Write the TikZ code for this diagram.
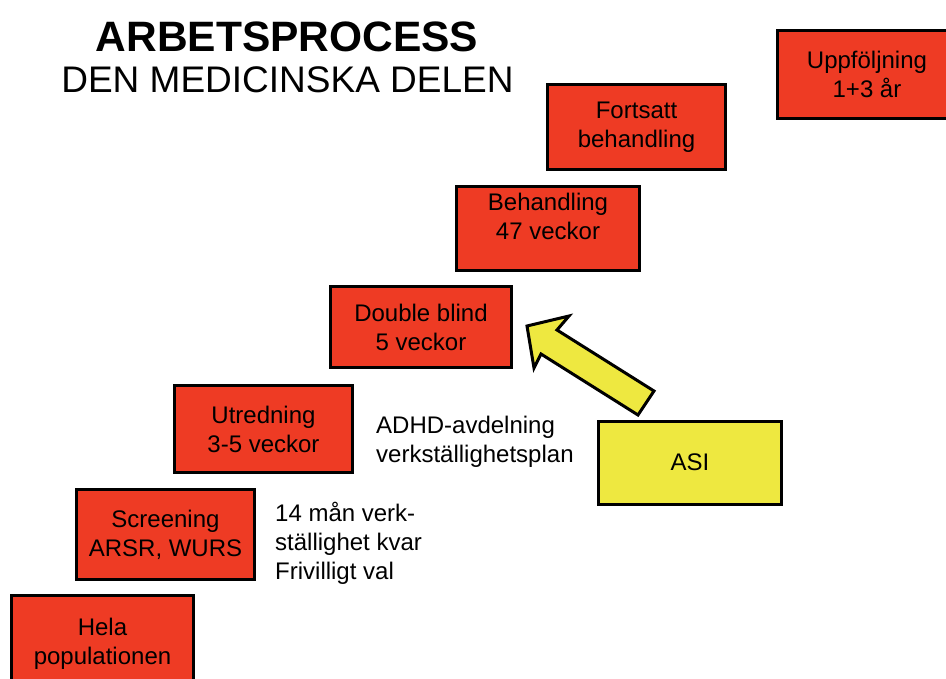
\documentclass[tikz,border=0pt]{standalone}
\usepackage{fontspec}
\setmainfont{Liberation Sans}
\definecolor{stepred}{HTML}{EE3B24}
\definecolor{asiyellow}{HTML}{EEE840}
\begin{document}
\begin{tikzpicture}[x=1pt,y=-1pt,
  redbox/.style={draw=black, line width=3pt, fill=stepred, inner sep=0pt,
    align=center, font=\fontsize{24}{29}\selectfont},
  yellowbox/.style={redbox, fill=asiyellow},
  note/.style={anchor=west, align=left, inner sep=0pt, font=\fontsize{24}{29}\selectfont}]
\useasboundingbox (0,0) rectangle (946,679);
\begin{scope}
\clip (0,0) rectangle (946,679);

% title
\node[anchor=base, inner sep=0pt, font=\fontsize{42.5}{46}\selectfont\bfseries] (title) at (287,52) {ARBETSPROCESS};
\node[anchor=base, inner sep=0pt, font=\fontsize{37}{42}\selectfont] (subtitle) at (287.5,93) {DEN MEDICINSKA DELEN};

% staircase of steps
\node[redbox, minimum width=182pt, minimum height=96pt] (hela) at (102.5,643.5) {Hela\\populationen};
\node[redbox, minimum width=178pt, minimum height=90pt] (screen) at (165.5,534.5) {Screening\\ARSR, WURS};
\node[redbox, minimum width=178pt, minimum height=87pt] (utred) at (263.5,429) {Utredning\\3-5 veckor};
\node[redbox, minimum width=181pt, minimum height=81pt] (double) at (421,327) {Double blind\\5 veckor};
\node[redbox, minimum width=183pt, minimum height=84pt] (behand) at (548,228.5) {};
\node[align=center, inner sep=0pt, font=\fontsize{24}{29}\selectfont] (behandtext) at (548,216.5) {Behandling\\47 veckor};
\node[redbox, minimum width=178pt, minimum height=85pt] (fortsatt) at (636.5,127) {Fortsatt\\behandling};
\node[redbox, minimum width=179pt, minimum height=88pt] (uppf) at (867,74.5) {Uppföljning\\1+3 år};

% ASI box and its arrow
\node[yellowbox, minimum width=183pt, minimum height=83pt] (asi) at (690,462.5) {ASI};
\coordinate (tip) at (527,326);
\draw[line width=3pt, line join=miter, fill=asiyellow]
  (tip) -- (569,316) -- (557,330) -- (654,391) -- (638,415) -- (541,354) -- (534,368) -- cycle;

% side notes
\node[note] (adhd) at (376,441.5) {ADHD-avdelning\\verkställighetsplan};
\node[note] (manad) at (275,543.5) {14 mån verk-\\ställighet kvar\\Frivilligt val};
\end{scope}
\end{tikzpicture}
\end{document}
